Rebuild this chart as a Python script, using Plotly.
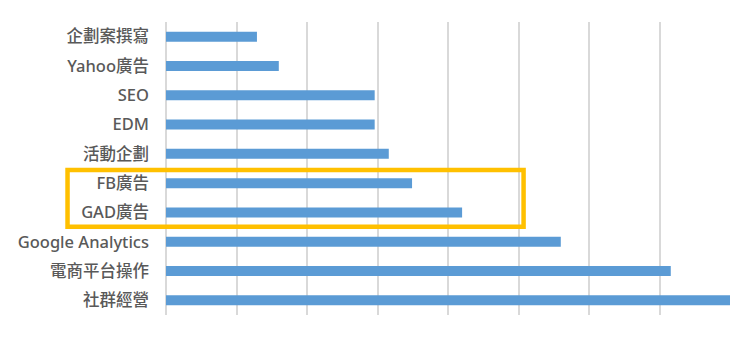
import plotly.graph_objects as go

categories = ["企劃案撰寫", "Yahoo廣告", "SEO", "EDM", "活動企劃",
              "FB廣告", "GAD廣告", "Google Analytics", "電商平台操作", "社群經營"]
values = [6.45, 8.0, 14.8, 14.8, 15.8, 17.45, 21.0, 28.0, 35.8, 40.0]
highlighted = ["FB廣告", "GAD廣告"]

fig = go.Figure(go.Bar(
    y=categories, x=values, orientation="h",
    marker=dict(color="#5B9BD5", line=dict(width=0)),
    width=0.34,
))

fig.update_layout(
    width=753, height=339,
    margin=dict(l=166, r=23, t=22, b=24),
    paper_bgcolor="white", plot_bgcolor="white",
    showlegend=False,
    font=dict(family="Noto Sans, Noto Sans CJK TC, sans-serif", size=16.5, color="#595959"),
)
fig.update_xaxes(range=[0, 40], dtick=5, showticklabels=False,
                 showgrid=True, gridcolor="#D9D9D9", gridwidth=1.5,
                 zeroline=True, zerolinecolor="#D9D9D9", zerolinewidth=1.5,
                 showline=False, fixedrange=True)
fig.update_yaxes(autorange="reversed", showgrid=False, showline=False,
                 ticklabelstandoff=16, fixedrange=True,
                 tickfont=dict(weight=500))

# highlight box around the highlighted categories (drawn in paper space so it spans the labels)
n = len(categories)
i0 = categories.index(highlighted[0])
i1 = categories.index(highlighted[-1])
pad = 0.5
y_top = 1 - (i0 + 0.5 - pad * 0.95) / n
y_bot = 1 - (i1 + 0.5 + pad * 1.05) / n
fig.add_shape(type="rect", xref="paper", yref="paper",
              x0=-0.1746, x1=0.634, y0=y_bot + 0.004, y1=y_top - 0.003,
              line=dict(color="#FFC000", width=4.5), fillcolor="rgba(0,0,0,0)")

fig.write_html("out.html")
